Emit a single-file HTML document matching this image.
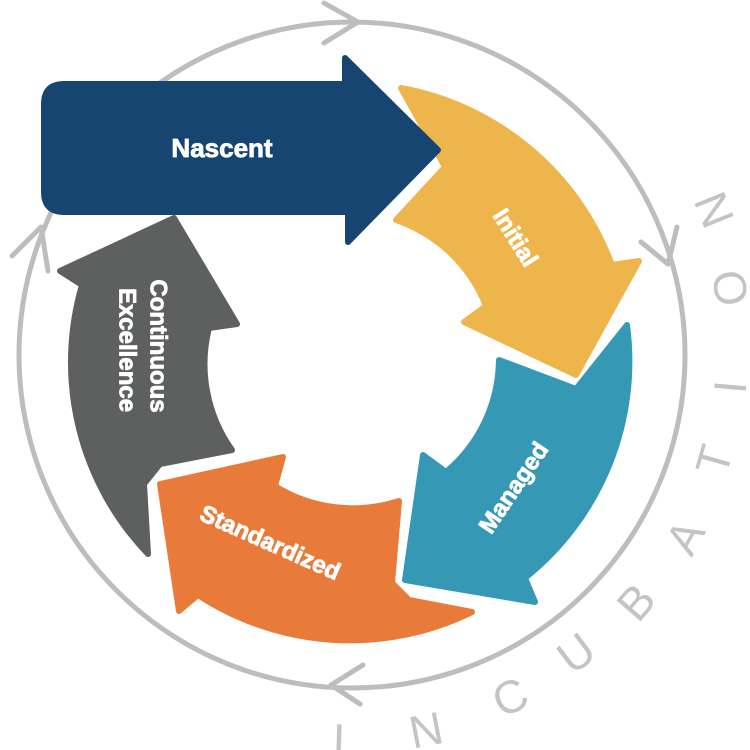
<!DOCTYPE html>
<html><head><meta charset="utf-8"><style>
html,body{margin:0;padding:0;background:#fff;width:750px;height:750px;overflow:hidden}
text{font-family:"Liberation Sans",sans-serif}
</style></head><body>
<svg width="750" height="750" viewBox="0 0 750 750" xmlns="http://www.w3.org/2000/svg">
<circle cx="352" cy="355" r="333" fill="none" stroke="#bdbdbd" stroke-width="5"/>
<g fill="none" stroke="#bdbdbd" stroke-width="5" stroke-linecap="round" stroke-linejoin="round">
<polyline points="324,3 358,22 324,43"/>
<polyline points="641,242 668,264 677,227"/>
<polyline points="363,665 331,685 360,704"/>
<polyline points="12,256 41,227 48,271"/>
</g>
<g stroke-linejoin="round" stroke-width="6">
<path d="M401,88 A278,278 0 0 1 612,265 L639,261 L576,375 L464,322 L486,306 A148,148 0 0 0 396,220 L445,167 Z" fill="#efb54d" stroke="#efb54d"/>
<path d="M627,325 A277,277 0 0 1 525,578 L535,602 L405,580 L423,455 L446,472 A148,148 0 0 0 499,360 L576,389 Z" fill="#3598b5" stroke="#3598b5"/>
<path d="M472,612 A277,277 0 0 1 198,595 L179,611 L160,484 L283,457 L275,486 A148,148 0 0 0 399,501 L392,583 L409,600 Z" fill="#e97b3a" stroke="#e97b3a"/>
<path d="M148,554 A277,277 0 0 1 82,285 L60,271 L174,218 L237,324 L209,328 A148,148 0 0 0 232,450 L160,464 L144,484 Z" fill="#5e605f" stroke="#5e605f"/>
<path d="M64,84 L345,84 L345,58 L438,150 L348,242 L348,212 L64,212 Q44,212 44,192 L44,104 Q44,84 64,84 Z" fill="#174572" stroke="#174572"/>
</g>
<g fill="#fff" font-weight="bold" text-anchor="middle" dominant-baseline="central" stroke="#fff" stroke-width="0.8">
<text x="222" y="148" font-size="26">Nascent</text>
<text x="0" y="0" font-size="24" transform="translate(515,238) rotate(58)">Initial</text>
<text x="0" y="0" font-size="24" transform="translate(514,488) rotate(-56)">Managed</text>
<text x="0" y="0" font-size="24" transform="translate(270,543) rotate(24)">Standardized</text>
<text x="0" y="0" font-size="24" transform="translate(158,346) rotate(90)">Continuous</text>
<text x="0" y="0" font-size="24" transform="translate(127,350) rotate(90)">Excellence</text>
</g>
<g fill="#c4c4c4" font-size="46" text-anchor="middle" dominant-baseline="central">
<text transform="translate(339,740) rotate(2)">I</text>
<text transform="translate(426,730) rotate(-11)">N</text>
<text transform="translate(510,697) rotate(-25)">C</text>
<text transform="translate(576,653) rotate(-37)">U</text>
<text transform="translate(636,602) rotate(-49)">B</text>
<text transform="translate(685,537) rotate(-61)">A</text>
<text transform="translate(714,460) rotate(-74)">T</text>
<text transform="translate(730,387) rotate(-85)">I</text>
<text transform="translate(730,288) rotate(-100)">O</text>
<text transform="translate(714,210) rotate(-112)">N</text>
</g>
</svg>
</body></html>
